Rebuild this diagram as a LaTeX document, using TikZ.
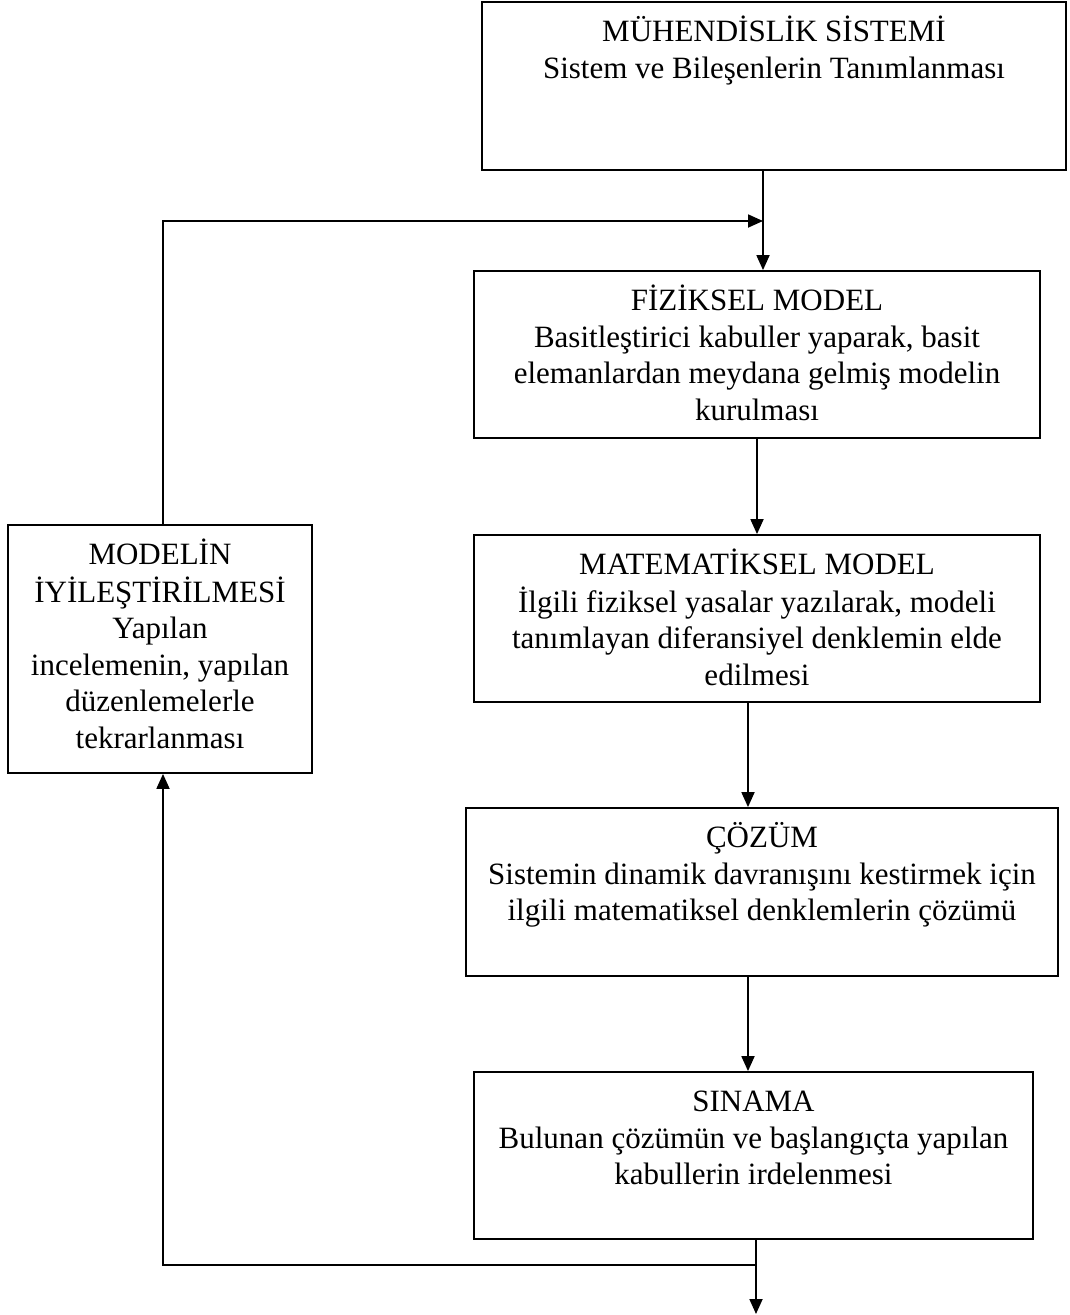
\documentclass[tikz,border=0pt]{standalone}
\usepackage{fontspec}
\setmainfont{Liberation Serif}
\usepackage{tikz}
\usetikzlibrary{positioning,arrows.meta,calc}
\newcommand{\kutumetin}[3]{\parbox[c][#2][t]{#1}{\centering\vspace*{14pt}\strut #3}}
\tikzset{
  kutu/.style={draw, line width=1.8pt, inner sep=0pt, font=\fontsize{31}{36.5}\selectfont},
  ok/.style={-{Triangle[length=15pt, width=13pt]}, line width=1.8pt},
  hat/.style={line width=1.8pt}
}

\begin{document}
\begin{tikzpicture}[x=1pt, y=-1pt]
\useasboundingbox (0,0) rectangle (1069,1315);
\node[kutu] (sistem) at (774,86) {\kutumetin{584pt}{168pt}{M\"UHEND\.ISL\.IK S\.ISTEM\.I\\Sistem ve Bileşenlerin Tanımlanması}};
\node[kutu] (fiziksel) at (757,354.5) {\kutumetin{566pt}{167pt}{F\.IZ\.IKSEL MODEL\\Basitleştirici kabuller yaparak, basit\\elemanlardan meydana gelmiş modelin\\kurulması}};
\node[kutu] (matematik) at (757,618.5) {\kutumetin{566pt}{167pt}{MATEMAT\.IKSEL MODEL\\İlgili fiziksel yasalar yazılarak, modeli\\tanımlayan diferansiyel denklemin elde\\edilmesi}};
\node[kutu] (cozum) at (762,892) {\kutumetin{592pt}{168pt}{ÇÖZÜM\\Sistemin dinamik davranışını kestirmek için\\ilgili matematiksel denklemlerin çözümü}};
\node[kutu] (sinama) at (753.5,1155.5) {\kutumetin{559pt}{167pt}{SINAMA\\Bulunan çözümün ve başlangıçta yapılan\\kabullerin irdelenmesi}};
\node[kutu] (iyilestirme) at (160,649) {\kutumetin{304pt}{248pt}{MODEL\.IN\\İYİLEŞTİRİLMESİ\\Yapılan\\incelemenin, yapılan\\düzenlemelerle\\tekrarlanması}};
\coordinate (giris) at (763,221);
\coordinate (kavsak) at (756,1265);
\coordinate (cikis) at (756,1314);
\draw[ok] ([xshift=-11pt]sistem.south) -- ([xshift=-11pt]sistem.south |- fiziksel.north);
\draw[ok] (fiziksel.south) -- (matematik.north);
\draw[ok] ([xshift=-9pt]matematik.south) -- ([xshift=-9pt]matematik.south |- cozum.north);
\draw[ok] ([xshift=-14pt]cozum.south) -- ([xshift=-14pt]cozum.south |- sinama.north);
\draw[ok] ([xshift=2.5pt]sinama.south) -- (cikis);
\draw[ok] (kavsak) -| ([xshift=3pt]iyilestirme.south);
\draw[ok] ([xshift=3pt]iyilestirme.north) |- (giris);
\end{tikzpicture}
\end{document}
